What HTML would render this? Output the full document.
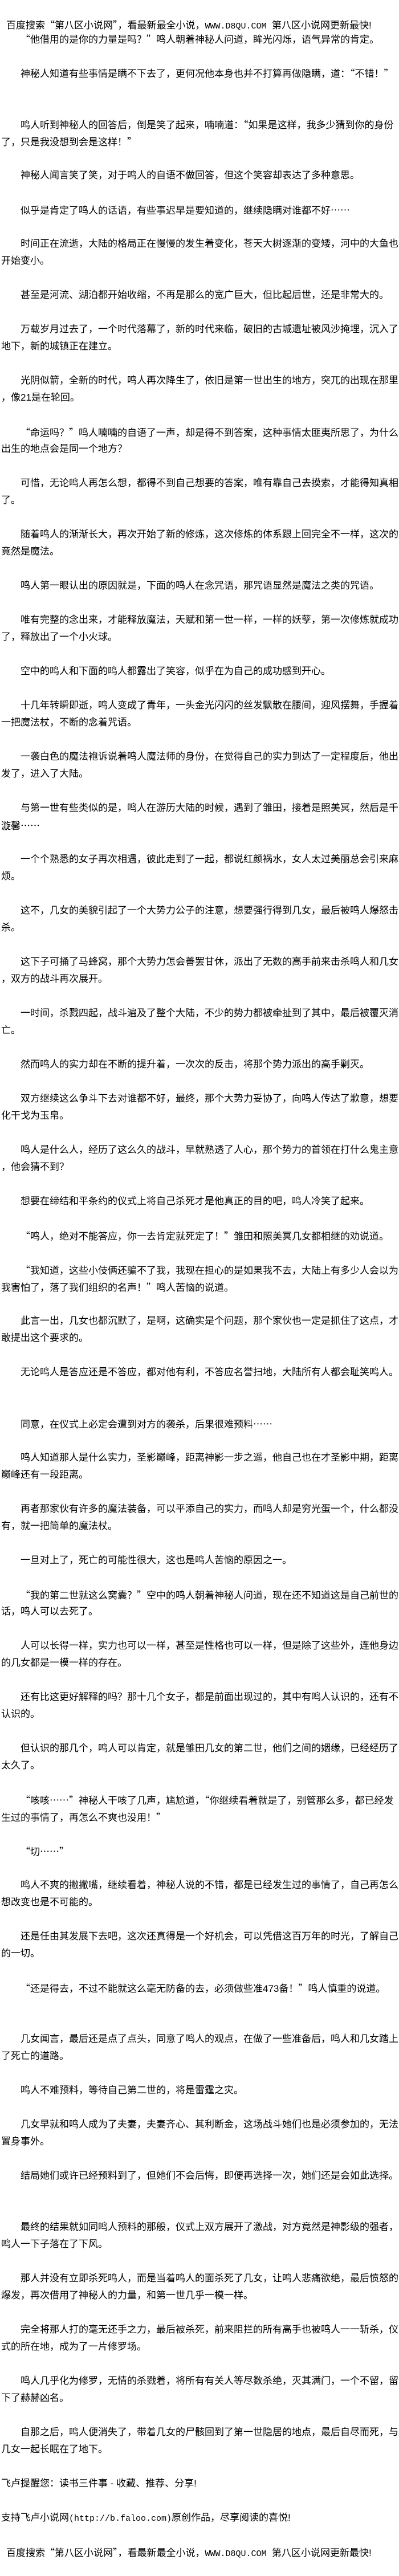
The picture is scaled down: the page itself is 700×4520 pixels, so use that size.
<!DOCTYPE html>
<html><head><meta charset="utf-8">
<style>
html,body{margin:0;padding:0;background:#fff;}
body{width:700px;height:4520px;position:relative;overflow:hidden;color:#000;
font-family:"Liberation Sans","Noto Sans CJK SC",sans-serif;font-size:17px;}
.l{position:absolute;left:2px;height:30px;line-height:30px;white-space:nowrap;}
.i{left:36px;}
.h{left:11px;}
.q{font-family:"Noto Sans CJK SC",sans-serif;}
.m{font-family:"Liberation Mono",monospace;font-size:15px;}
</style></head><body>
<div class="l h" style="top:28px">百度搜索<span class="q">“</span>第八区小说网<span class="q">”</span>，看最新最全小说，<span class="m">WWW.D8QU.COM</span>&nbsp;&nbsp;第八区小说网更新最快!</div>
<div class="l i" style="top:53px"><span class="q">“</span>他借用的是你的力量是吗？<span class="q">”</span>鸣人朝着神秘人问道，眸光闪烁，语气异常的肯定。</div>
<div class="l i" style="top:113px">神秘人知道有些事情是瞒不下去了，更何况他本身也并不打算再做隐瞒，道：<span class="q">“</span>不错！<span class="q">”</span></div>
<div class="l i" style="top:203px">鸣人听到神秘人的回答后，倒是笑了起来，喃喃道：<span class="q">“</span>如果是这样，我多少猜到你的身份</div>
<div class="l" style="top:233px">了，只是我没想到会是这样！<span class="q">”</span></div>
<div class="l i" style="top:293px">神秘人闻言笑了笑，对于鸣人的自语不做回答，但这个笑容却表达了多种意思。</div>
<div class="l i" style="top:353px">似乎是肯定了鸣人的话语，有些事迟早是要知道的，继续隐瞒对谁都不好<span class="q">……</span></div>
<div class="l i" style="top:413px">时间正在流逝，大陆的格局正在慢慢的发生着变化，苍天大树逐渐的变矮，河中的大鱼也</div>
<div class="l" style="top:443px">开始变小。</div>
<div class="l i" style="top:503px">甚至是河流、湖泊都开始收缩，不再是那么的宽广巨大，但比起后世，还是非常大的。</div>
<div class="l i" style="top:563px">万载岁月过去了，一个时代落幕了，新的时代来临，破旧的古城遗址被风沙掩埋，沉入了</div>
<div class="l" style="top:593px">地下，新的城镇正在建立。</div>
<div class="l i" style="top:653px">光阴似箭，全新的时代，鸣人再次降生了，依旧是第一世出生的地方，突兀的出现在那里</div>
<div class="l" style="top:683px">，像21是在轮回。</div>
<div class="l i" style="top:743px"><span class="q">“</span>命运吗？<span class="q">”</span>鸣人喃喃的自语了一声，却是得不到答案，这种事情太匪夷所思了，为什么</div>
<div class="l" style="top:773px">出生的地点会是同一个地方？</div>
<div class="l i" style="top:833px">可惜，无论鸣人再怎么想，都得不到自己想要的答案，唯有靠自己去摸索，才能得知真相</div>
<div class="l" style="top:863px">了。</div>
<div class="l i" style="top:923px">随着鸣人的渐渐长大，再次开始了新的修炼，这次修炼的体系跟上回完全不一样，这次的</div>
<div class="l" style="top:953px">竟然是魔法。</div>
<div class="l i" style="top:1013px">鸣人第一眼认出的原因就是，下面的鸣人在念咒语，那咒语显然是魔法之类的咒语。</div>
<div class="l i" style="top:1073px">唯有完整的念出来，才能释放魔法，天赋和第一世一样，一样的妖孽，第一次修炼就成功</div>
<div class="l" style="top:1103px">了，释放出了一个小火球。</div>
<div class="l i" style="top:1163px">空中的鸣人和下面的鸣人都露出了笑容，似乎在为自己的成功感到开心。</div>
<div class="l i" style="top:1223px">十几年转瞬即逝，鸣人变成了青年，一头金光闪闪的丝发飘散在腰间，迎风摆舞，手握着</div>
<div class="l" style="top:1253px">一把魔法杖，不断的念着咒语。</div>
<div class="l i" style="top:1313px">一袭白色的魔法袍诉说着鸣人魔法师的身份，在觉得自己的实力到达了一定程度后，他出</div>
<div class="l" style="top:1343px">发了，进入了大陆。</div>
<div class="l i" style="top:1403px">与第一世有些类似的是，鸣人在游历大陆的时候，遇到了雏田，接着是照美冥，然后是千</div>
<div class="l" style="top:1433px">漩馨<span class="q">……</span></div>
<div class="l i" style="top:1493px">一个个熟悉的女子再次相遇，彼此走到了一起，都说红颜祸水，女人太过美丽总会引来麻</div>
<div class="l" style="top:1523px">烦。</div>
<div class="l i" style="top:1583px">这不，几女的美貌引起了一个大势力公子的注意，想要强行得到几女，最后被鸣人爆怒击</div>
<div class="l" style="top:1613px">杀。</div>
<div class="l i" style="top:1673px">这下子可捅了马蜂窝，那个大势力怎会善罢甘休，派出了无数的高手前来击杀鸣人和几女</div>
<div class="l" style="top:1703px">，双方的战斗再次展开。</div>
<div class="l i" style="top:1763px">一时间，杀戮四起，战斗遍及了整个大陆，不少的势力都被牵扯到了其中，最后被覆灭消</div>
<div class="l" style="top:1793px">亡。</div>
<div class="l i" style="top:1853px">然而鸣人的实力却在不断的提升着，一次次的反击，将那个势力派出的高手剿灭。</div>
<div class="l i" style="top:1913px">双方继续这么争斗下去对谁都不好，最终，那个大势力妥协了，向鸣人传达了歉意，想要</div>
<div class="l" style="top:1943px">化干戈为玉帛。</div>
<div class="l i" style="top:2003px">鸣人是什么人，经历了这么久的战斗，早就熟透了人心，那个势力的首领在打什么鬼主意</div>
<div class="l" style="top:2033px">，他会猜不到？</div>
<div class="l i" style="top:2093px">想要在缔结和平条约的仪式上将自己杀死才是他真正的目的吧，鸣人冷笑了起来。</div>
<div class="l i" style="top:2153px"><span class="q">“</span>鸣人，绝对不能答应，你一去肯定就死定了！<span class="q">”</span>雏田和照美冥几女都相继的劝说道。</div>
<div class="l i" style="top:2213px"><span class="q">“</span>我知道，这些小伎俩还骗不了我，我现在担心的是如果我不去，大陆上有多少人会以为</div>
<div class="l" style="top:2243px">我害怕了，落了我们组织的名声！<span class="q">”</span>鸣人苦恼的说道。</div>
<div class="l i" style="top:2303px">此言一出，几女也都沉默了，是啊，这确实是个问题，那个家伙也一定是抓住了这点，才</div>
<div class="l" style="top:2333px">敢提出这个要求的。</div>
<div class="l i" style="top:2393px">无论鸣人是答应还是不答应，都对他有利，不答应名誉扫地，大陆所有人都会耻笑鸣人。</div>
<div class="l i" style="top:2483px">同意，在仪式上必定会遭到对方的袭杀，后果很难预料<span class="q">……</span></div>
<div class="l i" style="top:2543px">鸣人知道那人是什么实力，圣影巅峰，距离神影一步之遥，他自己也在才圣影中期，距离</div>
<div class="l" style="top:2573px">巅峰还有一段距离。</div>
<div class="l i" style="top:2633px">再者那家伙有许多的魔法装备，可以平添自己的实力，而鸣人却是穷光蛋一个，什么都没</div>
<div class="l" style="top:2663px">有，就一把简单的魔法杖。</div>
<div class="l i" style="top:2723px">一旦对上了，死亡的可能性很大，这也是鸣人苦恼的原因之一。</div>
<div class="l i" style="top:2783px"><span class="q">“</span>我的第二世就这么窝囊？<span class="q">”</span>空中的鸣人朝着神秘人问道，现在还不知道这是自己前世的</div>
<div class="l" style="top:2813px">话，鸣人可以去死了。</div>
<div class="l i" style="top:2873px">人可以长得一样，实力也可以一样，甚至是性格也可以一样，但是除了这些外，连他身边</div>
<div class="l" style="top:2903px">的几女都是一模一样的存在。</div>
<div class="l i" style="top:2963px">还有比这更好解释的吗？那十几个女子，都是前面出现过的，其中有鸣人认识的，还有不</div>
<div class="l" style="top:2993px">认识的。</div>
<div class="l i" style="top:3053px">但认识的那几个，鸣人可以肯定，就是雏田几女的第二世，他们之间的姻缘，已经经历了</div>
<div class="l" style="top:3083px">太久了。</div>
<div class="l i" style="top:3143px"><span class="q">“</span>咳咳<span class="q">……”</span>神秘人干咳了几声，尴尬道，<span class="q">“</span>你继续看着就是了，别管那么多，都已经发</div>
<div class="l" style="top:3173px">生过的事情了，再怎么不爽也没用！<span class="q">”</span></div>
<div class="l i" style="top:3233px"><span class="q">“</span>切<span class="q">……”</span></div>
<div class="l i" style="top:3293px">鸣人不爽的撇撇嘴，继续看着，神秘人说的不错，都是已经发生过的事情了，自己再怎么</div>
<div class="l" style="top:3323px">想改变也是不可能的。</div>
<div class="l i" style="top:3383px">还是任由其发展下去吧，这次还真得是一个好机会，可以凭借这百万年的时光，了解自己</div>
<div class="l" style="top:3413px">的一切。</div>
<div class="l i" style="top:3473px"><span class="q">“</span>还是得去，不过不能就这么毫无防备的去，必须做些准473备！<span class="q">”</span>鸣人慎重的说道。</div>
<div class="l i" style="top:3563px">几女闻言，最后还是点了点头，同意了鸣人的观点，在做了一些准备后，鸣人和几女踏上</div>
<div class="l" style="top:3593px">了死亡的道路。</div>
<div class="l i" style="top:3653px">鸣人不难预料，等待自己第二世的，将是雷霆之灾。</div>
<div class="l i" style="top:3713px">几女早就和鸣人成为了夫妻，夫妻齐心、其利断金，这场战斗她们也是必须参加的，无法</div>
<div class="l" style="top:3743px">置身事外。</div>
<div class="l i" style="top:3803px">结局她们或许已经预料到了，但她们不会后悔，即便再选择一次，她们还是会如此选择。</div>
<div class="l i" style="top:3893px">最终的结果就如同鸣人预料的那般，仪式上双方展开了激战，对方竟然是神影级的强者，</div>
<div class="l" style="top:3923px">鸣人一下子落在了下风。</div>
<div class="l i" style="top:3983px">那人并没有立即杀死鸣人，而是当着鸣人的面杀死了几女，让鸣人悲痛欲绝，最后愤怒的</div>
<div class="l" style="top:4013px">爆发，再次借用了神秘人的力量，和第一世几乎一模一样。</div>
<div class="l i" style="top:4073px">完全将那人打的毫无还手之力，最后被杀死，前来阻拦的所有高手也被鸣人一一斩杀，仪</div>
<div class="l" style="top:4103px">式的所在地，成为了一片修罗场。</div>
<div class="l i" style="top:4163px">鸣人几乎化为修罗，无情的杀戮着，将所有有关人等尽数杀绝，灭其满门，一个不留，留</div>
<div class="l" style="top:4193px">下了赫赫凶名。</div>
<div class="l i" style="top:4253px">自那之后，鸣人便消失了，带着几女的尸骸回到了第一世隐居的地点，最后自尽而死，与</div>
<div class="l" style="top:4283px">几女一起长眠在了地下。</div>
<div class="l" style="top:4343px">飞卢提醒您：读书三件事 - 收藏、推荐、分享!</div>
<div class="l" style="top:4403px">支持飞卢小说网<span class="m">(http://b.faloo.com)</span>原创作品，尽享阅读的喜悦!</div>
<div class="l h" style="top:4463px">百度搜索<span class="q">“</span>第八区小说网<span class="q">”</span>，看最新最全小说，<span class="m">WWW.D8QU.COM</span>&nbsp;&nbsp;第八区小说网更新最快!</div>
</body></html>
